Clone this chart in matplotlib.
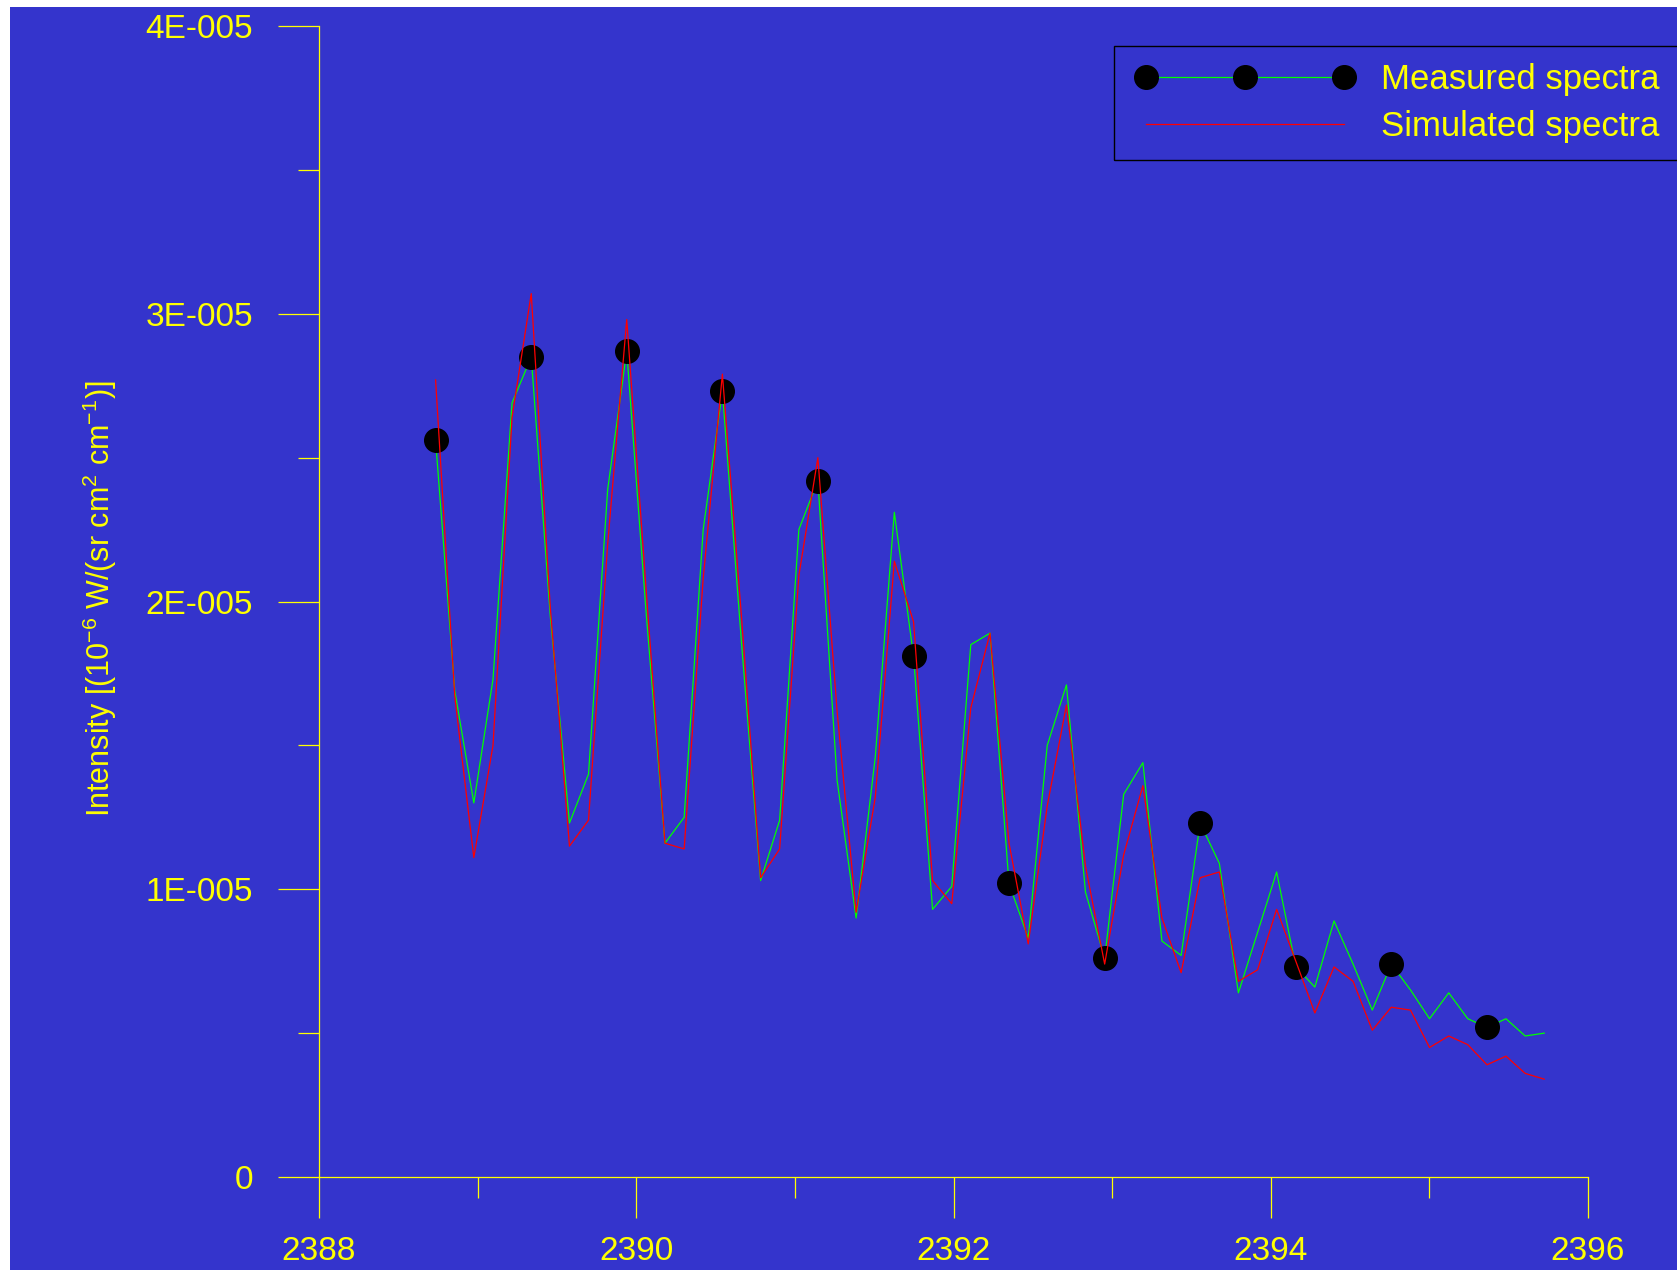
import matplotlib
matplotlib.use('Agg')
import matplotlib.pyplot as plt
from matplotlib.patches import Rectangle

plt.rcParams['font.family'] = ['Liberation Sans', 'DejaVu Sans']
plt.rcParams['mathtext.fontset'] = 'custom'
plt.rcParams['mathtext.rm'] = 'Liberation Sans'
plt.rcParams['mathtext.it'] = 'Liberation Sans:italic'

# wavenumber (cm-1)
wavenumber = [2388.735, 2388.856, 2388.976, 2389.097, 2389.217, 2389.338, 2389.458, 2389.579,
              2389.699, 2389.820, 2389.940, 2390.061, 2390.181, 2390.302, 2390.422, 2390.543,
              2390.663, 2390.784, 2390.904, 2391.025, 2391.145, 2391.266, 2391.386, 2391.507,
              2391.627, 2391.748, 2391.868, 2391.989, 2392.109, 2392.230, 2392.350, 2392.471,
              2392.591, 2392.712, 2392.832, 2392.953, 2393.073, 2393.194, 2393.314, 2393.435,
              2393.555, 2393.676, 2393.796, 2393.917, 2394.037, 2394.158, 2394.278, 2394.399,
              2394.519, 2394.640, 2394.760, 2394.881, 2395.001, 2395.122, 2395.242, 2395.363,
              2395.483, 2395.604, 2395.724]

# intensities in units of 1e-5
measured = [2.56, 1.69, 1.30, 1.73, 2.69, 2.85, 1.95, 1.23, 1.40, 2.39,
            2.87, 1.97, 1.16, 1.25, 2.25, 2.73, 1.86, 1.03, 1.24, 2.25,
            2.42, 1.38, 0.90, 1.46, 2.31, 1.81, 0.93, 1.01, 1.85, 1.89,
            1.02, 0.83, 1.50, 1.71, 0.99, 0.76, 1.33, 1.44, 0.82, 0.77,
            1.23, 1.09, 0.64, 0.85, 1.06, 0.73, 0.66, 0.89, 0.74, 0.58,
            0.74, 0.65, 0.55, 0.64, 0.55, 0.52, 0.55, 0.49, 0.50]

simulated = [2.77, 1.67, 1.11, 1.50, 2.64, 3.07, 1.98, 1.15, 1.24, 2.20,
             2.98, 2.05, 1.16, 1.14, 2.08, 2.79, 1.95, 1.04, 1.14, 2.09,
             2.50, 1.62, 0.92, 1.32, 2.14, 1.93, 1.03, 0.95, 1.63, 1.89,
             1.16, 0.81, 1.29, 1.64, 1.08, 0.74, 1.12, 1.36, 0.90, 0.71,
             1.04, 1.06, 0.68, 0.72, 0.93, 0.75, 0.57, 0.73, 0.68, 0.51,
             0.59, 0.58, 0.45, 0.49, 0.46, 0.39, 0.42, 0.36, 0.34]

yticks = [0, 1e-5, 2e-5, 3e-5, 4e-5]
ytick_labels = ['0', '1E-005', '2E-005', '3E-005', '4E-005']
yminor = [0.5e-5, 1.5e-5, 2.5e-5, 3.5e-5]
xticks = [2388, 2390, 2392, 2394, 2396]
xminor = [2389, 2391, 2393, 2395]

bg = '#3434CC'
fg = '#FFFF00'

W, H = 1677, 1270
fig = plt.figure(figsize=(W / 100, H / 100), dpi=100, facecolor=bg)
# white strips on the left and top edge
fig.patches.append(Rectangle((0, 0), 10 / W, 1, transform=fig.transFigure,
                             facecolor='white', edgecolor='none'))
fig.patches.append(Rectangle((0, 1 - 7 / H), 1, 7 / H, transform=fig.transFigure,
                             facecolor='white', edgecolor='none'))

ax = fig.add_axes([319 / W, 1 - 1177 / H, (1588 - 319) / W, (1177 - 26) / H])
ax.set_facecolor(bg)

meas = [v * 1e-5 for v in measured]
sim = [v * 1e-5 for v in simulated]

ax.plot(wavenumber, meas, color='#00FF00', lw=0.9, marker='o', markevery=5,
        markersize=17, markerfacecolor='black', markeredgecolor='black',
        label='Measured spectra', zorder=2)
ax.plot(wavenumber, sim, color='#FF0000', lw=0.9, label='Simulated spectra', zorder=3)

ax.set_xlim(2388, 2396)
ax.set_ylim(0, 4e-5)
ax.set_xticks(xticks)
ax.set_xticks(xminor, minor=True)
ax.set_yticks(yticks)
ax.set_yticklabels(ytick_labels)
ax.set_yticks(yminor, minor=True)

for s in ['top', 'right']:
    ax.spines[s].set_visible(False)
for s in ['left', 'bottom']:
    ax.spines[s].set_color(fg)
    ax.spines[s].set_linewidth(0.9)

ax.tick_params(which='major', length=29.5, width=0.9, color=fg, labelcolor=fg, labelsize=24)
ax.tick_params(axis='y', which='major', pad=18)
ax.tick_params(axis='x', which='major', pad=13)
ax.tick_params(which='minor', length=15, width=0.9, color=fg)

fig.text(100 / W, 1 - 599 / H,
         r'Intensity [(10$^{-6}$ W/(sr cm$^{2}$ cm$^{-1}$)]',
         rotation=90, ha='center', va='center', color=fg, fontsize=22)

# legend frame drawn separately, it runs off the right edge
fig.patches.append(Rectangle((1114 / W, 1 - 160 / H), (W - 1114 + 5) / W, 114 / H,
                             transform=fig.transFigure, facecolor='none',
                             edgecolor='black', lw=1.0, zorder=5))
leg = ax.legend(loc='center left', bbox_to_anchor=(1136 / W, 1 - 103 / H),
                bbox_transform=fig.transFigure, frameon=False, fontsize=25,
                numpoints=3, handlelength=6.3, handletextpad=0.75,
                borderpad=0, borderaxespad=0, labelspacing=0.4)
for t in leg.get_texts():
    t.set_color(fg)

fig.savefig('out.png', dpi=100, facecolor=bg)
